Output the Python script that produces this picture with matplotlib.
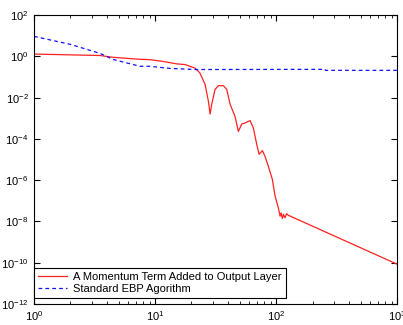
import numpy as np
import matplotlib
matplotlib.use("Agg")
import matplotlib.pyplot as plt
from matplotlib.ticker import LogLocator, NullFormatter, FixedLocator

plt.rcParams['font.family'] = ['Liberation Sans', 'DejaVu Sans']
plt.rcParams['mathtext.fontset'] = 'custom'
plt.rcParams['mathtext.rm'] = 'Liberation Sans'
plt.rcParams['mathtext.it'] = 'Liberation Sans'
plt.rcParams['mathtext.default'] = 'regular'

# training error vs. epoch, momentum on output layer
momentum_epoch = [1, 3.5, 4.5, 7.5, 9.1, 11.6, 15.2, 17.7, 21.4, 23.5, 25.9, 27.6,
                  28.5, 29.4, 31.3, 33.4, 36.7, 39.1, 41.7, 45.8, 48.8, 52.1, 55.4,
                  61, 64.9, 69.2, 72.4, 77.1, 81.1, 86.3, 93.1, 98.1, 104.5, 107.9,
                  110, 112.7, 115, 118.6, 122, 126, 1000]
momentum_err = [1.29, 1.1, 0.9, 0.72, 0.69, 0.57, 0.43, 0.40, 0.27, 0.155, 0.044, 6.6e-3,
                1.6e-3, 4.8e-3, 0.025, 0.038, 0.038, 0.025, 4.8e-3, 1.2e-3, 2.3e-4,
                5.3e-4, 5.9e-4, 7.7e-4, 3.4e-4, 5.4e-5, 1.8e-5, 2.7e-5, 1.4e-5,
                4.7e-6, 1.1e-6, 1.7e-7, 4.5e-8, 1.8e-8, 2.6e-8, 1.4e-8, 2.2e-8,
                1.5e-8, 2.4e-8, 2.0e-8, 8.5e-11]

# standard error back-propagation
ebp_epoch = [1, 2.0, 3.5, 4.5, 7.5, 9.1, 13.3, 22, 254, 256, 1000]
ebp_err = [9.3, 3.8, 1.4, 0.71, 0.33, 0.33, 0.26, 0.23, 0.235, 0.21, 0.21]

fig = plt.figure(figsize=(4.03, 3.25), dpi=100)
ax = fig.add_axes([0.0844, 0.0646, 0.901, 0.889])

ax.loglog(momentum_epoch, momentum_err, color='#ff2020', lw=0.9,
          label='A Momentum Term Added to Output Layer')
ax.loglog(ebp_epoch, ebp_err, color='#1010ff', lw=0.9, ls=(0, (3, 2.5)),
          label='Standard EBP Agorithm')

ax.set_xlim(1, 1000)
ax.set_ylim(1e-12, 1e2)

ax.xaxis.set_major_locator(LogLocator(base=10, numticks=10))
ax.xaxis.set_minor_locator(LogLocator(base=10, subs=np.arange(2, 10), numticks=10))
ax.xaxis.set_minor_formatter(NullFormatter())
ax.yaxis.set_major_locator(FixedLocator([10.0 ** k for k in range(-12, 3, 2)]))
ax.yaxis.set_minor_locator(FixedLocator([]))
ax.set_yticklabels([f'$10^{{{k}}}$' for k in range(-12, 3, 2)])

ax.tick_params(which='both', direction='in', top=True, right=True,
               labelsize=8, pad=4)
ax.tick_params(which='major', length=4, width=0.8)
ax.tick_params(which='minor', length=2.5, width=0.6)
for s in ax.spines.values():
    s.set_linewidth(0.8)

leg = ax.legend(loc='lower left', bbox_to_anchor=(0.0, 0.02), fontsize=8,
                fancybox=False, framealpha=1, edgecolor='black',
                handlelength=2.6, handletextpad=0.6, borderaxespad=0,
                borderpad=0.35, labelspacing=0.2)
leg.get_frame().set_linewidth(0.8)

fig.savefig('out.png', dpi=100)
